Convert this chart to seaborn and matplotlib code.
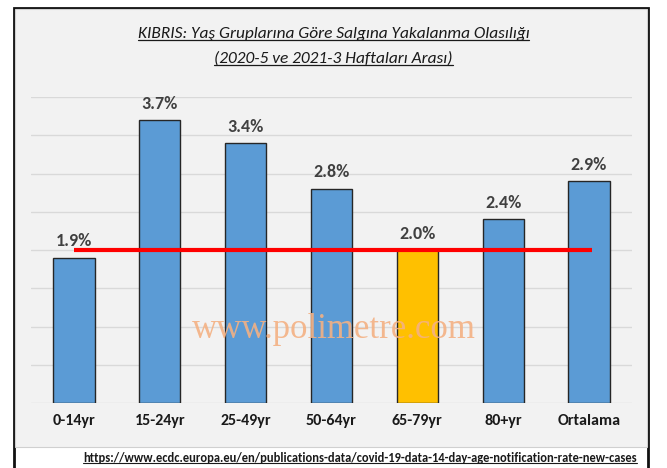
import matplotlib
matplotlib.use("Agg")
import matplotlib.pyplot as plt
import seaborn as sns
import pandas as pd
from matplotlib.patches import Rectangle
from matplotlib.lines import Line2D

# ---- data ----
groups = ["0-14yr", "15-24yr", "25-49yr", "50-64yr", "65-79yr", "80+yr", "Ortalama"]
rates = [1.9, 3.7, 3.4, 2.8, 2.0, 2.4, 2.9]
labels = ["1.9%", "3.7%", "3.4%", "2.8%", "2.0%", "2.4%", "2.9%"]
highlight = "65-79yr"
title_1 = "KIBRIS: Yaş Gruplarına Göre Salgına Yakalanma Olasılığı"
title_2 = "(2020-5 ve 2021-3 Haftaları Arası)"
source = "https://www.ecdc.europa.eu/en/publications-data/covid-19-data-14-day-age-notification-rate-new-cases"

sns.set_theme(style="white")
plt.rcParams['font.family'] = ['Carlito', 'Archivo Narrow', 'DejaVu Sans']

data = pd.DataFrame({"group": groups, "rate": rates})
colors = {g: ("#FFC000" if g == highlight else "#5B9BD5") for g in groups}

fig = plt.figure(figsize=(6.67, 4.68), dpi=100)
W, H = 667, 468

# frame and background
fig.patches.append(Rectangle((14 / W, -0.05), 634 / W, 1.05 - 8 / H, transform=fig.transFigure,
                             facecolor="white", edgecolor="#111111", linewidth=2, zorder=0))
fig.patches.append(Rectangle((15 / W, 1 - 447 / H), 632 / W, 438 / H, transform=fig.transFigure,
                             facecolor="#F2F2F2", edgecolor="#D0D0D0", linewidth=0.8, zorder=0))

ax = fig.add_axes([31 / W, 1 - 403 / H, 601 / W, 306 / H])
ax.set_zorder(2)
ax.set_facecolor("none")
sns.barplot(data=data, x="group", y="rate", hue="group", palette=colors, legend=False,
            width=0.48, edgecolor="#262626", linewidth=1.0, saturation=1, ax=ax, zorder=2)

for cont, lab in zip(ax.containers, labels):
    ax.bar_label(cont, labels=[lab], padding=6, fontsize=13, fontweight="bold", color="#404040")

# reference line at the highlighted group's value
ref = rates[groups.index(highlight)]
ax.plot([0, len(groups) - 1 + 0.03], [ref, ref], color="#FF0000", linewidth=3, zorder=3,
        solid_capstyle="butt")

ax.set_ylim(0, 4)
ax.set_xlim(-0.5, len(groups) - 0.5)
ax.set_yticks([i * 0.5 for i in range(9)])
ax.yaxis.grid(True, color="#D9D9D9", linewidth=1)
ax.set_axisbelow(True)
ax.tick_params(axis="y", left=False, labelleft=False)
ax.tick_params(axis="x", bottom=False, pad=2, labelsize=11.5, labelcolor="#1A1A1A")
for t in ax.get_xticklabels():
    t.set_fontweight("bold")
ax.set_xlabel("")
ax.set_ylabel("")
for s in ax.spines.values():
    s.set_visible(False)

# titles, watermark, source
t1 = fig.text(0.5, 1 - 34 / H, title_1, ha="center", va="center", fontsize=12.5,
              fontstyle="italic", color="#1A1A1A")
t2 = fig.text(0.5, 1 - 59 / H, title_2, ha="center", va="center", fontsize=12.5,
              fontstyle="italic", color="#1A1A1A")
fig.text(0.5, 1 - 330 / H, "www.polimetre.com", ha="center", va="center", fontsize=25,
         family="Liberation Serif", color="#F4B183", alpha=0.9, zorder=5)
t3 = fig.text(637 / W, 1 - 458 / H, source, ha="right", va="center", fontsize=9,
              fontweight="bold", color="#1A1A1A")

# underline the titles and the source
fig.canvas.draw()
r = fig.canvas.get_renderer()
for t, lw in [(t1, 0.9), (t2, 0.9), (t3, 0.8)]:
    bb = t.get_window_extent(r).transformed(fig.transFigure.inverted())
    y = bb.y0 + 0.1 * bb.height
    fig.lines.append(Line2D([bb.x0, bb.x1], [y, y], transform=fig.transFigure,
                            color=t.get_color(), linewidth=lw))

fig.savefig("out.png", dpi=100)
